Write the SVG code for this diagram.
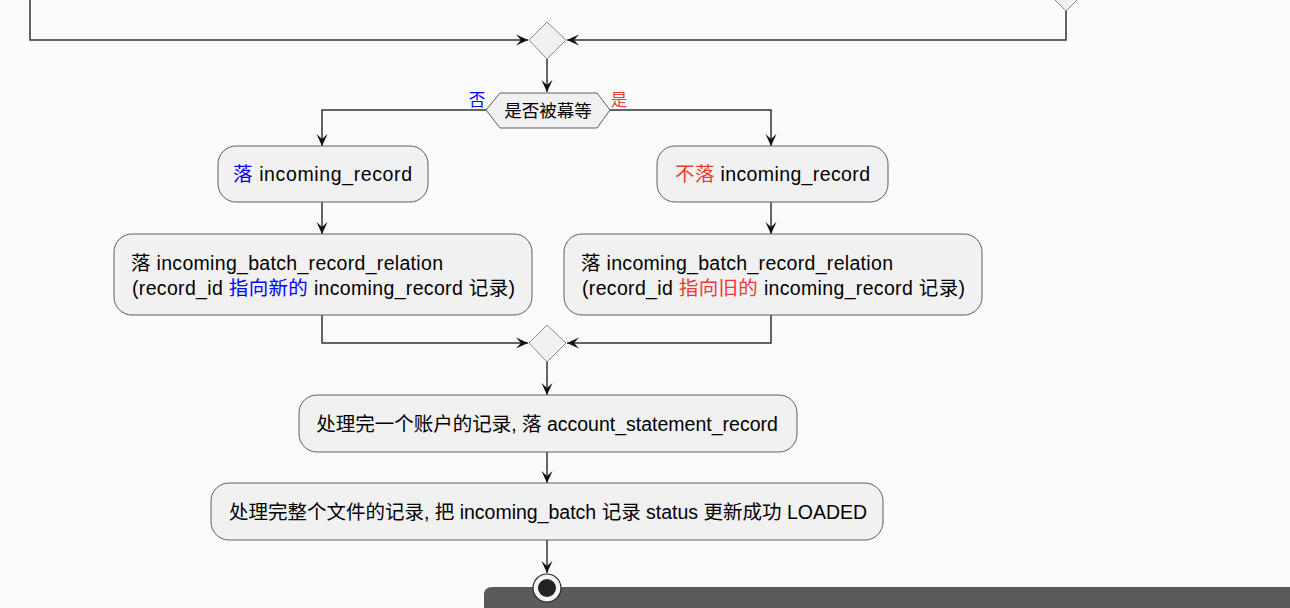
<svg xmlns="http://www.w3.org/2000/svg" width="1290" height="608" viewBox="0 0 1290 608">
<style>
text{font-family:"Liberation Sans","Noto Sans CJK SC",sans-serif;fill:#000;}
.t{font-size:19.5px;}
.box{fill:#f1f1f1;stroke:#5e5e5e;stroke-width:1;}
.dia{fill:#f1f1f1;stroke:#8a8a8a;stroke-width:1;}
.c{fill:none;stroke:#333;stroke-width:1.5;}
.b{fill:#0000ff;}
.r{fill:#ec3a2f;}
</style>
<defs>
<marker id="ah" markerUnits="userSpaceOnUse" markerWidth="16" markerHeight="14" viewBox="-14 -7 16 14" refX="0" refY="0" orient="auto">
<path d="M0,0 L-12,-5.5 L-7,0 L-12,5.5 Z" fill="#111"/>
</marker>
</defs>
<rect width="1290" height="608" fill="#fbfbfb"/>
<g id="connectors">
<polyline class="c" points="30,0 30,40 528,40" marker-end="url(#ah)"/>
<polyline class="c" points="1066,10 1066,40 567,40" marker-end="url(#ah)"/>
<line class="c" x1="547" y1="59" x2="547" y2="92" marker-end="url(#ah)"/>
<polyline class="c" points="486,110 322,110 322,146" marker-end="url(#ah)"/>
<polyline class="c" points="610,110 771,110 771,146" marker-end="url(#ah)"/>
<line class="c" x1="322" y1="202" x2="322" y2="234" marker-end="url(#ah)"/>
<line class="c" x1="771" y1="202" x2="771" y2="234" marker-end="url(#ah)"/>
<polyline class="c" points="322,315 322,343 528,343" marker-end="url(#ah)"/>
<polyline class="c" points="771,315 771,343 567,343" marker-end="url(#ah)"/>
<line class="c" x1="547" y1="362" x2="547" y2="395" marker-end="url(#ah)"/>
<line class="c" x1="547" y1="452" x2="547" y2="483" marker-end="url(#ah)"/>
<line class="c" x1="547" y1="540" x2="547" y2="573" marker-end="url(#ah)"/>
</g>
<g id="topDecision">
<polygon class="dia" points="1047,-8 1066,-27 1085,-8 1066,11"/>
</g>
<g id="mergeTop">
<polygon class="dia" points="529,40 547,22 566,40 547,59"/>
</g>
<g id="decision">
<polygon class="dia" points="486,110 500,93 597,93 610,110 597,128 500,128" style="stroke:#5e5e5e"/>
<text x="548" y="117" text-anchor="middle" style="font-size:17.5px">是否被幕等</text>
<text x="477" y="106" text-anchor="middle" class="b" style="font-size:16.5px">否</text>
<text x="619" y="106" text-anchor="middle" class="r" style="font-size:16.5px">是</text>
</g>
<g id="nodeLeft1">
<rect class="box" x="218" y="146" width="210" height="56" rx="18"/>
<text class="t" x="233" y="181" textLength="179" lengthAdjust="spacing"><tspan class="b">落</tspan> incoming_record</text>
</g>
<g id="nodeRight1">
<rect class="box" x="657" y="146" width="231" height="56" rx="18"/>
<text class="t" x="675" y="181" textLength="195" lengthAdjust="spacing"><tspan class="r">不落</tspan> incoming_record</text>
</g>
<g id="nodeLeft2">
<rect class="box" x="114" y="234" width="418" height="81" rx="18"/>
<text class="t" x="131" y="270" textLength="312" lengthAdjust="spacing">落 incoming_batch_record_relation</text>
<text class="t" x="132" y="295" textLength="383" lengthAdjust="spacing">(record_id <tspan class="b">指向新的</tspan> incoming_record 记录)</text>
</g>
<g id="nodeRight2">
<rect class="box" x="564" y="234" width="418" height="81" rx="18"/>
<text class="t" x="581" y="270" textLength="312" lengthAdjust="spacing">落 incoming_batch_record_relation</text>
<text class="t" x="582" y="295" textLength="383" lengthAdjust="spacing">(record_id <tspan class="r">指向旧的</tspan> incoming_record 记录)</text>
</g>
<g id="mergeBottom">
<polygon class="dia" points="529,343 547,325 566,343 547,362"/>
</g>
<g id="nodeAccount">
<rect class="box" x="299" y="395" width="498" height="57" rx="18"/>
<text class="t" x="547" y="431" text-anchor="middle">处理完一个账户的记录, 落 account_statement_record</text>
</g>
<g id="nodeFile">
<rect class="box" x="211" y="483" width="672" height="57" rx="18"/>
<text class="t" x="548" y="519" text-anchor="middle">处理完整个文件的记录, 把 incoming_batch 记录 status 更新成功 LOADED</text>
</g>
<g id="overlayBar">
<path d="M484,608 L484,595 Q484,587 492,587 L1290,587 L1290,608 Z" fill="#5a5a5c"/>
</g>
<g id="end">
<circle cx="547" cy="588" r="14" fill="#f4f4f4" stroke="#222" stroke-width="1.2"/>
<circle cx="547" cy="588" r="9" fill="#222"/>
</g>
</svg>
